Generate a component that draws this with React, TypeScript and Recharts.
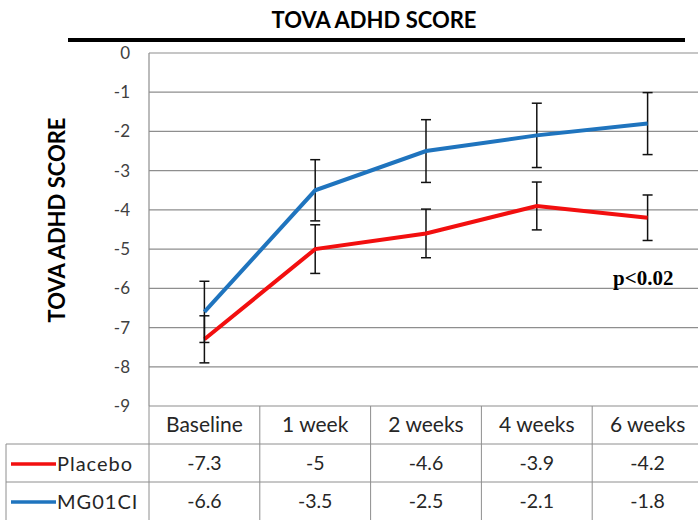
import React from 'react';
import {
  LineChart, Line, XAxis, YAxis, CartesianGrid, ErrorBar,
} from 'recharts';

const RED = '#F20F0F';
const BLUE = '#1F74BE';
const GRID = '#8E8E8E';
const TXT = '#262626';
const FONT = 'Lato, "Open Sans", sans-serif';

// values
const weeks = ['Baseline', '1 week', '2 weeks', '4 weeks', '6 weeks'];
const placebo = [-7.3, -5, -4.6, -3.9, -4.2];
const placeboErr = [0.6, 0.62, 0.62, 0.61, 0.58];
const mg01ci = [-6.6, -3.5, -2.5, -2.1, -1.8];
const mg01ciErr = [0.78, 0.78, 0.8, 0.82, 0.79];
const yTicks = [0, -1, -2, -3, -4, -5, -6, -7, -8, -9];

const data = weeks.map((w, i) => ({
  week: w,
  placebo: placebo[i],
  placeboErr: placeboErr[i],
  mg01ci: mg01ci[i],
  mg01ciErr: mg01ciErr[i],
}));

const W = 720;
const H = 520;
const M = { top: 53, right: 17, left: 89, bottom: 0 };
const COL_W = (W - M.left - 60 - M.right) / weeks.length;
const ROW_H = 38;

const TableTick = (props: any) => {
  const { x, y, payload, index } = props;
  const i = index ?? weeks.indexOf(payload.value);
  const x0 = x - COL_W / 2;
  const x1 = x + COL_W / 2;
  const r1 = y + ROW_H;
  const r2 = y + ROW_H * 2;
  const bottom = y + ROW_H * 3 + 10;
  const head = { fontFamily: FONT, fontSize: 21, fill: TXT };
  const val = { fontFamily: FONT, fontSize: 19.5, fill: TXT };
  return (
    <g>
      <line x1={x0} y1={y} x2={x0} y2={bottom} stroke={GRID} />
      {i === weeks.length - 1 && <line x1={x1} y1={y} x2={x1} y2={bottom} stroke={GRID} />}
      <line x1={x0} y1={r1} x2={x1} y2={r1} stroke={GRID} />
      <line x1={x0} y1={r2} x2={x1} y2={r2} stroke={GRID} />
      <text x={x} y={y + 26} textAnchor="middle" {...head}>{payload.value}</text>
      <text x={x} y={r1 + 26} textAnchor="middle" {...val}>{placebo[i]}</text>
      <text x={x} y={r2 + 26} textAnchor="middle" {...val}>{mg01ci[i]}</text>
      {i === 0 && (
        <g>
          <line x1={6} y1={r1} x2={x0} y2={r1} stroke={GRID} />
          <line x1={6} y1={r2} x2={x0} y2={r2} stroke={GRID} />
          <line x1={6} y1={r1} x2={6} y2={bottom} stroke={GRID} />
          <line x1={11} y1={r1 + 20} x2={56} y2={r1 + 20} stroke={RED} strokeWidth={3.5} />
          <text x={57} y={r1 + 27} {...head} fontSize={20} letterSpacing={1}>Placebo</text>
          <line x1={11} y1={r2 + 20} x2={56} y2={r2 + 20} stroke={BLUE} strokeWidth={3.5} />
          <text x={57} y={r2 + 27} {...head} fontSize={20} letterSpacing={1}>MG01CI</text>
        </g>
      )}
    </g>
  );
};

export default function App() {
  return (
    <div style={{ position: 'fixed', left: 0, top: 0, width: 698, height: 520, overflow: 'hidden', background: '#fff' }}>
      <LineChart width={W} height={H} data={data} margin={M}>
        <CartesianGrid vertical={false} stroke={GRID} strokeWidth={1.2} />
        <XAxis
          dataKey="week"
          scale="band"
          height={114}
          axisLine={false}
          tickLine={false}
          tickSize={0}
          tickMargin={0}
          interval={0}
          tick={<TableTick />}
        />
        <YAxis
          type="number"
          domain={[-9, 0]}
          ticks={yTicks}
          width={60}
          axisLine={{ stroke: GRID, strokeWidth: 1.2 }}
          tickLine={false}
          tickSize={6}
          tickMargin={13}
          tick={{ fill: '#404040', fontSize: 17, fontFamily: FONT }}
        />
        <Line dataKey="placebo" stroke={RED} strokeWidth={4} dot={false} isAnimationActive={false}>
          <ErrorBar dataKey="placeboErr" direction="y" width={5} stroke="#111" strokeWidth={1.5} />
        </Line>
        <Line dataKey="mg01ci" stroke={BLUE} strokeWidth={4} dot={false} isAnimationActive={false}>
          <ErrorBar dataKey="mg01ciErr" direction="y" width={5} stroke="#111" strokeWidth={1.5} />
        </Line>
      </LineChart>
      <svg width={698} height={520} style={{ position: 'absolute', left: 0, top: 0, pointerEvents: 'none' }}>
        <text x={374} y={28} textAnchor="middle" fontFamily={FONT} fontWeight="bold" fontSize={22} fill="#000">TOVA ADHD SCORE</text>
        <line x1={68} y1={40} x2={685} y2={40} stroke="#000" strokeWidth={4} />
        <text x={0} y={0} transform="translate(65 220) rotate(-90)" textAnchor="middle" fontFamily={FONT} fontWeight="bold" fontSize={22} fill="#000">TOVA ADHD SCORE</text>
        <text x={613} y={285} fontFamily='"Liberation Serif", serif' fontWeight="bold" fontSize={21} fill="#000">p&lt;0.02</text>
      </svg>
    </div>
  );
}
